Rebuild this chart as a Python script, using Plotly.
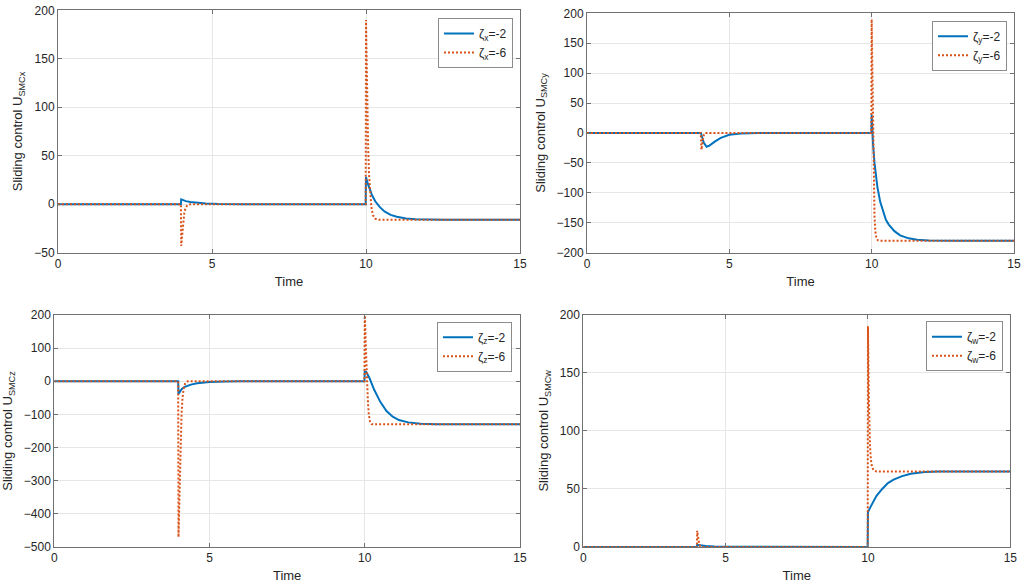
import plotly.graph_objects as go

# ---------------- data ----------------
# Panel x
tx_b = [0, 3.99, 4.0, 4.05, 4.15, 4.3, 4.5, 4.8, 5.2, 6.0, 9.99, 10.0, 10.05, 10.1, 10.2, 10.3, 10.45, 10.6, 10.8, 11.0, 11.3, 11.6, 12.0, 12.5, 15]
ux_b = [0, 0, 5, 4.2, 3.2, 2.3, 1.5, 0.8, 0.3, 0, 0, 28, 22, 17, 9, 3, -3, -7.5, -11, -13, -14.8, -15.5, -15.9, -16, -16]
tx_o = [0, 3.99, 4.0, 4.02, 4.04, 4.07, 4.1, 4.14, 4.2, 4.3, 9.99, 10.0, 10.01, 10.02, 10.03, 10.05, 10.07, 10.1, 10.13, 10.17, 10.22, 10.3, 10.4, 15]
ux_o = [0, 0, -43, -34, -26, -16, -9, -4, -1, 0, 0, 190, 165, 140, 118, 85, 58, 30, 12, -2, -11, -15, -16, -16]

# Panel y
ty_b = [0, 3.99, 4.0, 4.05, 4.1, 4.2, 4.3, 4.5, 4.7, 5.0, 5.4, 6.0, 9.99, 10.0, 10.02, 10.05, 10.1, 10.2, 10.3, 10.4, 10.5, 10.6, 10.8, 11.0, 11.3, 11.6, 12.0, 13.0, 15]
uy_b = [0, 0, 0, -8, -16, -23, -21, -14, -8, -3, -1, 0, 0, 30, 5, -20, -50, -90, -115, -132, -145, -153, -164, -171, -176, -178.5, -179.5, -180, -180]
ty_o = [0, 3.99, 4.0, 4.02, 4.04, 4.07, 4.1, 4.15, 9.99, 10.0, 10.02, 10.04, 10.06, 10.08, 10.1, 10.13, 10.17, 10.22, 10.3, 15]
uy_o = [0, 0, -5, -28, -22, -12, -4, 0, 0, 190, 120, 40, -40, -100, -140, -165, -176, -179.5, -180, -180]

# Panel z
tz_b = [0, 3.99, 4.0, 4.05, 4.1, 4.2, 4.4, 4.6, 5.0, 5.5, 6.0, 9.99, 10.0, 10.05, 10.15, 10.3, 10.5, 10.7, 10.9, 11.1, 11.4, 11.8, 12.3, 15]
uz_b = [0, 0, -38, -30, -24, -17, -10, -6, -2.5, -0.5, 0, 0, 30, 28, 10, -25, -62, -90, -107, -117, -124, -128, -130, -130]
tz_o = [0, 3.99, 4.0, 4.02, 4.04, 4.06, 4.08, 4.1, 4.13, 4.17, 4.22, 4.3, 9.99, 10.0, 10.02, 10.04, 10.06, 10.08, 10.1, 10.13, 10.17, 10.22, 10.3, 15]
uz_o = [0, 0, -470, -380, -280, -200, -140, -95, -50, -20, -5, 0, 0, 210, 150, 90, 30, -20, -60, -100, -122, -129, -130, -130]

# Panel w
tw_b = [0, 3.99, 4.0, 4.1, 4.3, 4.6, 5.0, 9.99, 10.0, 10.1, 10.2, 10.3, 10.5, 10.7, 10.9, 11.2, 11.5, 12.0, 12.5, 15]
uw_b = [0, 0, 1.8, 1.4, 0.9, 0.5, 0.2, 0, 30, 35, 40, 44, 50, 55, 58, 61, 63, 64.5, 65, 65]
tw_o = [0, 3.99, 4.0, 4.02, 4.04, 4.07, 4.1, 4.15, 9.99, 10.0, 10.01, 10.02, 10.03, 10.05, 10.07, 10.1, 10.14, 10.2, 10.3, 15]
uw_o = [0, 0, 14, 10, 6, 3, 1, 0, 0, 190, 170, 150, 130, 105, 88, 76, 69, 66, 65, 65]

panels = [
    dict(sub="x", ytitle="SMCx", tb=tx_b, ub=ux_b, to=tx_o, uo=ux_o,
         yrange=[-50, 200], dtick=50),
    dict(sub="y", ytitle="SMCy", tb=ty_b, ub=uy_b, to=ty_o, uo=uy_o,
         yrange=[-200, 200], dtick=50),
    dict(sub="z", ytitle="SMCz", tb=tz_b, ub=uz_b, to=tz_o, uo=uz_o,
         yrange=[-500, 200], dtick=100),
    dict(sub="w", ytitle="SMCw", tb=tw_b, ub=uw_b, to=tw_o, uo=uw_o,
         yrange=[0, 200], dtick=50),
]
labels_b = "=-2"
labels_o = "=-6"

# ---------------- layout geometry ----------------
W, H = 1024, 587
def px_x(a, b):
    return [a / W, b / W]
def px_y(top, bottom):
    return [1 - bottom / H, 1 - top / H]

xdomains = [px_x(58, 520), px_x(587, 1014), px_x(54.3, 520), px_x(583.3, 1010.3)]
ydomains = [px_y(10.3, 252.7), px_y(13.3, 252.7), px_y(315, 547), px_y(314.7, 547)]
legpos = [(513, 18), (1007, 20.7), (512, 321.7), (1003, 321.3)]

BLUE = "#0072BD"
ORANGE = "#D95319"
FONT = "Liberation Sans, Arial, sans-serif"
AXC = "#707070"
TXT = "#262626"

fig = go.Figure()
layout = dict(
    width=W, height=H,
    margin=dict(l=0, r=0, t=0, b=0),
    paper_bgcolor="white", plot_bgcolor="white",
    font=dict(family=FONT, size=12, color=TXT),
    showlegend=True,
)

for i, p in enumerate(panels):
    n = "" if i == 0 else str(i + 1)
    leg = "legend" if i == 0 else f"legend{i + 1}"
    fig.add_trace(go.Scatter(
        x=p["tb"], y=p["ub"], mode="lines",
        line=dict(color=BLUE, width=2),
        name=f"ζ<sub>{p['sub']}</sub>{labels_b}",
        xaxis=f"x{n}", yaxis=f"y{n}", legend=leg))
    fig.add_trace(go.Scatter(
        x=p["to"], y=p["uo"], mode="lines",
        line=dict(color=ORANGE, width=2, dash="2px,2px"),
        name=f"ζ<sub>{p['sub']}</sub>{labels_o}",
        xaxis=f"x{n}", yaxis=f"y{n}", legend=leg))

    common = dict(showline=True, linecolor=AXC, linewidth=1, mirror="ticks",
                  ticks="inside", ticklen=4, tickcolor=AXC,
                  showgrid=True, gridcolor="#E6E6E6", gridwidth=1,
                  zeroline=False, automargin=False,
                  tickfont=dict(family=FONT, size=12, color=TXT))
    layout[f"xaxis{n}"] = dict(
        domain=xdomains[i], anchor=f"y{n}", range=[0, 15], dtick=5, tick0=0,
        title=dict(text="Time", font=dict(family=FONT, size=13, color=TXT), standoff=6),
        **common)
    layout[f"yaxis{n}"] = dict(
        domain=ydomains[i], anchor=f"x{n}", range=p["yrange"], dtick=p["dtick"],
        title=dict(text=f"Sliding control U<sub>{p['ytitle']}</sub>",
                   font=dict(family=FONT, size=13, color=TXT), standoff=8),
        **common)
    lx, ly = legpos[i]
    layout[leg] = dict(
        x=lx / W, y=1 - ly / H, xanchor="right", yanchor="top",
        xref="paper", yref="paper",
        bgcolor="white", bordercolor="#8C8C8C", borderwidth=1,
        font=dict(family=FONT, size=12, color=TXT),
        tracegroupgap=0, itemwidth=30)

fig.update_layout(**layout)
fig.write_html("out.html")
